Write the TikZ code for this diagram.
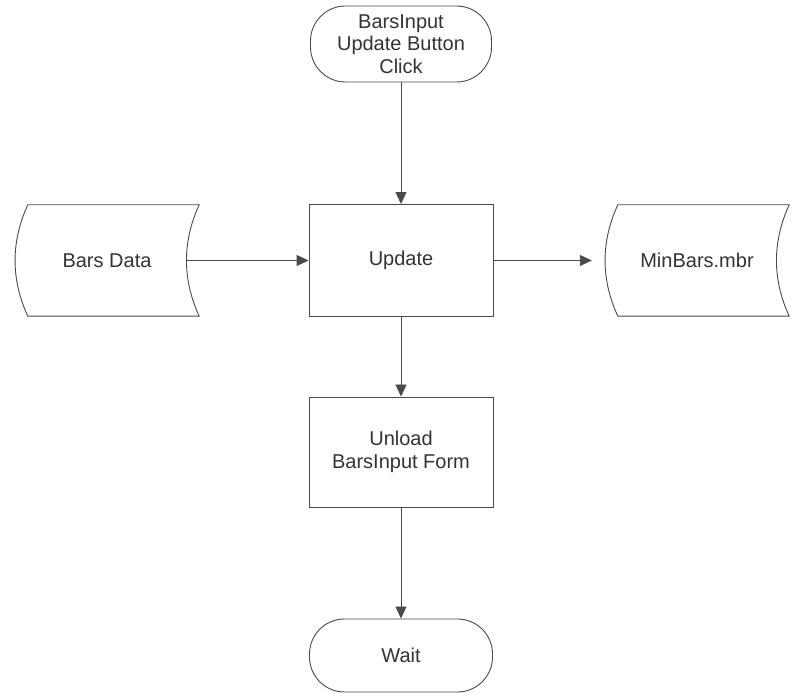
\documentclass[tikz,border=0pt]{standalone}
\usepackage{fontspec}
\setmainfont{Liberation Sans}
\usetikzlibrary{arrows.meta}

\definecolor{ink}{HTML}{4a4a4a}
\definecolor{txt}{HTML}{333333}

\tikzset{
  base/.style={draw=none, text=txt, align=center,
    font=\fontsize{20}{22.5}\selectfont, inner sep=0pt},
  terminal/.style={base, draw=ink, line width=0.9pt, rounded corners=35pt},
  process/.style={base, draw=ink, line width=0.9pt},
  storage/.style={base},
  flow/.style={draw=ink, line width=0.9pt, -{Triangle[length=12pt,width=11pt]}},
  outline/.style={draw=ink, line width=0.9pt},
}

% stored-data outline around a named node
\newcommand{\storedshape}[1]{%
  \draw[outline] ([xshift=13pt]#1.north west) -- (#1.north east)
    .. controls +(-17pt,-37pt) and +(-17pt,37pt) .. (#1.south east)
    -- ([xshift=13pt]#1.south west)
    .. controls +(-17pt,37pt) and +(-17pt,-37pt) .. ([xshift=13pt]#1.north west)
    -- cycle;}

\begin{document}
\begin{tikzpicture}[x=1pt, y=1pt]
  \useasboundingbox (0,0) rectangle (792,693);

  \node[terminal, minimum width=181pt, minimum height=76pt] (start) at (401,649)
    {BarsInput\\Update Button\\Click};
  \node[process, minimum width=184pt, minimum height=112pt] (update) at (401,432.5) {Update};
  \node[process, minimum width=184pt, minimum height=110pt] (unload) at (401,241)
    {Unload\\BarsInput Form};
  \node[terminal, minimum width=183pt, minimum height=73pt] (wait) at (401,37.5) {Wait};

  \node[storage, minimum width=184pt, minimum height=111pt] (bars) at (107,432.5) {Bars Data};
  \node[storage, minimum width=184pt, minimum height=111pt] (minbars) at (697,432.5) {MinBars.mbr};
  \storedshape{bars}
  \storedshape{minbars}

  \draw[flow] (start) -- (update);
  \draw[flow] ([xshift=-13pt]bars.east) -- (update.west);
  \draw[flow] (update.east) -- ([xshift=-13pt]minbars.west);
  \draw[flow] (update) -- (unload);
  \draw[flow] (unload) -- (wait);
\end{tikzpicture}
\end{document}
